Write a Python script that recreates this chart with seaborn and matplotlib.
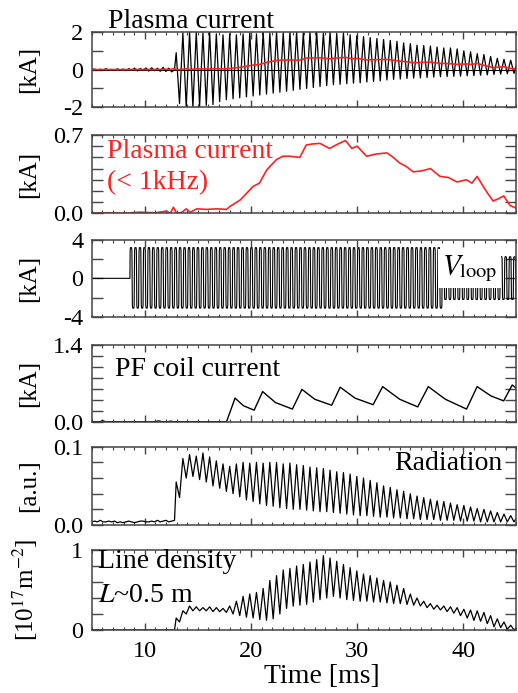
"""
Stacked discharge waveforms: plasma current, low-pass current, Vloop,
PF coil current, radiation and line density versus time.
"""
import numpy as np
import matplotlib
matplotlib.use('Agg')
import matplotlib.pyplot as plt
import seaborn as sns
from matplotlib.ticker import MultipleLocator, FixedLocator, FixedFormatter

T_MIN, T_MAX = 5.0, 45.0

# oscillation timing
OSC_START = 12.8    # ms, breakdown
OSC_PERIOD = 0.63   # ms

# plasma current [kA]: noise before breakdown, then per-cycle max / min
ip_pre = [0.0, 0.03, -0.04, 0.02, -0.02, 0.05, -0.03, 0.01, -0.05, 0.04,
          -0.02, 0.03, -0.06, 0.05, -0.04, 0.08, -0.07, 0.06, -0.05, 0.09,
          -0.08, 0.1, -0.06, 0.07, -0.09, 0.12, -0.1, 0.08, -0.12, 0.0]
ip_max = [0.9, 1.95, 2.0, 2.0, 1.95, 2.0, 1.9, 1.85, 1.9, 1.85,
          1.9, 1.95, 1.9, 2.0, 1.95, 2.0, 1.95, 2.0, 2.0, 1.95,
          2.0, 2.0, 1.95, 2.0, 1.9, 1.95, 1.85, 1.8, 1.75, 1.7,
          1.65, 1.6, 1.55, 1.5, 1.42, 1.38, 1.3, 1.28, 1.25, 1.2,
          1.15, 1.15, 1.1, 1.0, 0.95, 0.85, 0.8, 0.7, 0.6, 0.55,
          0.5, 0.45]
ip_min = [-1.8, -2.0, -2.0, -1.95, -1.9, -1.85, -1.7, -1.6, -1.55, -1.5,
          -1.45, -1.4, -1.35, -1.3, -1.25, -1.2, -1.15, -1.1, -1.05, -1.0,
          -0.95, -0.9, -0.85, -0.8, -0.78, -0.75, -0.72, -0.7, -0.66, -0.63,
          -0.6, -0.55, -0.52, -0.5, -0.47, -0.45, -0.44, -0.42, -0.4, -0.38,
          -0.37, -0.36, -0.35, -0.33, -0.32, -0.3, -0.28, -0.26, -0.24, -0.22,
          -0.2, -0.2]

# low-pass (< 1 kHz) plasma current [kA]
ip_lf_t = [5.0, 6.5, 8.0, 9.5, 11.0, 12.06, 12.4, 12.7, 13.0, 13.5,
           13.9, 14.3, 14.9, 15.8, 16.8, 17.7, 18.0, 19.0, 20.2, 20.8,
           21.5, 22.4, 23.0, 23.7, 24.6, 25.2, 25.8, 26.5, 27.0, 27.4,
           28.2, 28.9, 29.5, 30.0, 30.9, 31.8, 32.8, 33.4, 34.0, 34.6,
           35.3, 36.1, 36.9, 37.8, 38.6, 39.4, 40.3, 40.8, 41.3, 42.0,
           42.8, 43.3, 43.8, 44.4, 45.0]
ip_lf = [0.0, 0.005, 0.0, 0.01, 0.005, 0.02, 0.0, 0.054, 0.0, 0.01,
         0.04, 0.01, 0.04, 0.035, 0.04, 0.035, 0.06, 0.12, 0.24, 0.27,
         0.39, 0.48, 0.51, 0.51, 0.50, 0.61, 0.62, 0.625, 0.60, 0.58,
         0.62, 0.65, 0.58, 0.60, 0.51, 0.53, 0.54, 0.50, 0.45, 0.42,
         0.37, 0.38, 0.40, 0.33, 0.32, 0.28, 0.30, 0.27, 0.33, 0.22,
         0.11, 0.13, 0.155, 0.07, 0.045]

# loop voltage: square-ish drive, segments of constant amplitude
vloop_start = [8.6, 38.0]
vloop_end = [38.0, 45.2]
vloop_high = [3.2, 2.25]
vloop_low = [-3.1, -2.2]
VLOOP_PERIOD = 0.42
# one cycle of the waveform, phase and normalised value
vloop_phase = [0.0, 0.05, 0.12, 0.38, 0.45, 0.5, 0.55, 0.62, 0.88, 0.95]
vloop_shape = [0.0, 0.9, 1.0, 1.0, 0.9, 0.0, -0.9, -1.0, -1.0, -0.9]

# PF coil current [kA]
pf_t = [5.0, 5.8, 6.0, 6.3, 11.0, 11.3, 11.6, 12.2, 12.4, 12.7,
        17.7, 18.5, 19.3, 20.3, 21.1, 22.3, 23.9, 24.8, 26.0, 27.6,
        28.4, 29.8, 31.5, 32.4, 34.0, 35.7, 36.7, 38.3, 40.3, 41.3,
        42.6, 43.8, 44.6, 45.0]
pf_i = [0.0, 0.0, 0.02, 0.0, 0.0, 0.015, 0.0, 0.0, 0.01, 0.0,
        0.0, 0.43, 0.29, 0.21, 0.55, 0.35, 0.23, 0.59, 0.41, 0.30,
        0.63, 0.43, 0.31, 0.64, 0.41, 0.27, 0.64, 0.41, 0.23, 0.64,
        0.47, 0.38, 0.67, 0.61]

# radiation [a.u.]
rad_pre = [0.004, 0.005, 0.004, 0.006, 0.004, 0.004, 0.005, 0.004, 0.005, 0.003,
           0.004, 0.003, 0.004, 0.005, 0.004, 0.003, 0.004, 0.005, 0.005, 0.004,
           0.004, 0.005, 0.004, 0.006, 0.004, 0.005, 0.006, 0.004, 0.005, 0.006]
rad_max = [0.055, 0.085, 0.09, 0.088, 0.092, 0.087, 0.082, 0.078, 0.075, 0.078,
           0.08, 0.079, 0.08, 0.079, 0.08, 0.08, 0.078, 0.079, 0.077, 0.076,
           0.074, 0.073, 0.072, 0.07, 0.068, 0.067, 0.065, 0.062, 0.06, 0.057,
           0.054, 0.05, 0.048, 0.045, 0.043, 0.04, 0.037, 0.035, 0.033, 0.031,
           0.03, 0.028, 0.026, 0.025, 0.023, 0.021, 0.02, 0.018, 0.016, 0.014,
           0.012, 0.011]
rad_min = [0.035, 0.06, 0.062, 0.058, 0.055, 0.05, 0.047, 0.043, 0.04, 0.036,
           0.032, 0.03, 0.027, 0.025, 0.024, 0.022, 0.021, 0.02, 0.02, 0.019,
           0.018, 0.017, 0.017, 0.016, 0.015, 0.014, 0.013, 0.012, 0.012, 0.011,
           0.01, 0.01, 0.009, 0.009, 0.008, 0.008, 0.007, 0.007, 0.007, 0.006,
           0.006, 0.006, 0.005, 0.005, 0.005, 0.004, 0.004, 0.004, 0.004, 0.004,
           0.004, 0.004]

# line density [1e17 m^-2]
ld_pre = [0.0, 0.0]
ld_max = [0.15, 0.24, 0.3, 0.29, 0.28, 0.29, 0.28, 0.27, 0.3, 0.36,
          0.42, 0.45, 0.47, 0.52, 0.62, 0.68, 0.75, 0.77, 0.8, 0.82,
          0.85, 0.88, 0.93, 0.9, 0.86, 0.82, 0.78, 0.74, 0.7, 0.68,
          0.65, 0.62, 0.6, 0.56, 0.52, 0.45, 0.4, 0.36, 0.33, 0.31,
          0.3, 0.29, 0.28, 0.26, 0.25, 0.24, 0.22, 0.18, 0.14, 0.1,
          0.06, 0.04]
ld_min = [0.1, 0.2, 0.24, 0.24, 0.24, 0.23, 0.23, 0.22, 0.2, 0.18,
          0.16, 0.15, 0.13, 0.12, 0.14, 0.2, 0.27, 0.3, 0.31, 0.32,
          0.35, 0.38, 0.4, 0.42, 0.4, 0.38, 0.37, 0.36, 0.36, 0.35,
          0.35, 0.34, 0.33, 0.33, 0.32, 0.31, 0.3, 0.28, 0.26, 0.25,
          0.23, 0.21, 0.18, 0.15, 0.12, 0.11, 0.08, 0.04, 0.03, 0.01,
          0.0, 0.0]


def oscillation(pre, maxs, mins):
    """Join the pre-breakdown samples with the per-cycle peaks and troughs."""
    t_pre = np.linspace(T_MIN, OSC_START, len(pre))
    cyc = OSC_START + OSC_PERIOD * np.arange(len(maxs))
    t_osc = np.column_stack([cyc + 0.25 * OSC_PERIOD, cyc + 0.75 * OSC_PERIOD]).ravel()
    v_osc = np.column_stack([maxs, mins]).ravel()
    return np.concatenate([t_pre, t_osc]), np.concatenate([pre, v_osc])


def vloop_wave():
    t = [T_MIN, vloop_start[0]]
    v = [0.0, 0.0]
    phase = np.array(vloop_phase)
    shape = np.array(vloop_shape)
    for t0, t1, hi, lo in zip(vloop_start, vloop_end, vloop_high, vloop_low):
        n = int(round((t1 - t0) / VLOOP_PERIOD))
        for k in range(n):
            ts = t0 + (k + phase) * VLOOP_PERIOD
            t.extend(ts)
            v.extend(np.where(shape > 0, shape * hi, -shape * lo))
    return np.array(t), np.array(v)


sns.set_theme(style='ticks')
plt.rcParams['font.family'] = ['Liberation Serif', 'DejaVu Serif']
plt.rcParams['mathtext.fontset'] = 'stix'
plt.rcParams['axes.edgecolor'] = '#444444'
plt.rcParams['axes.linewidth'] = 1.1
plt.rcParams['text.color'] = 'black'
plt.rcParams['axes.labelcolor'] = 'black'

fig = plt.figure(figsize=(5.18, 6.93), dpi=100)

# panel boxes [left, bottom, width, height] in figure fraction
left, width = 0.177, 0.820
panels = [(0.8452, 0.1087), (0.6922, 0.1130), (0.5430, 0.1107),
          (0.3915, 0.1107), (0.2424, 0.1130), (0.0909, 0.1154)]
axes = [fig.add_axes([left, b, width, h]) for b, h in panels]

LBL = 17.5
TXT = 20
YLAB = 18

# y-axis setup: limits, tick positions, labelled ticks, axis label
yspec = [
    ((-2, 2), np.arange(-2, 2.01, 1), {-2: '-2', 0: '0', 2: '2'}, '[kA]'),
    ((0, 0.7), np.arange(0, 0.701, 0.1), {0: '0.0', 0.7: '0.7'}, '[kA]'),
    ((-4, 4), np.arange(-4, 4.01, 2), {-4: '-4', 0: '0', 4: '4'}, '[kA]'),
    ((0, 1.4), np.arange(0, 1.401, 0.2), {0: '0.0', 1.4: '1.4'}, '[kA]'),
    ((0, 0.1), np.arange(0, 0.1001, 0.02), {0: '0.0', 0.1: '0.1'}, '[a.u.]'),
    ((0, 1), np.arange(0, 1.001, 0.2), {0: '0', 1: '1'}, r'[10$^{17}$m$^{-2}$]'),
]

for ax, (lim, ticks, labels, ylab) in zip(axes, yspec):
    ax.set_xlim(T_MIN, T_MAX)
    ax.set_ylim(*lim)
    ax.yaxis.set_major_locator(FixedLocator(ticks))
    texts = []
    for tk in ticks:
        key = [k for k in labels if abs(k - tk) < 1e-6]
        texts.append(labels[key[0]] if key else '')
    ax.yaxis.set_major_formatter(FixedFormatter(texts))
    ax.xaxis.set_major_locator(MultipleLocator(10))
    ax.xaxis.set_minor_locator(MultipleLocator(1))
    ax.tick_params(axis='both', which='both', direction='in', top=True, right=True,
                   colors='#444444', labelcolor='black', labelsize=LBL)
    ax.tick_params(axis='y', which='major', length=8, width=1, pad=6)
    ax.tick_params(axis='x', which='major', length=5, width=1, pad=8)
    ax.tick_params(axis='x', which='minor', length=2.5, width=0.8)
    ax.set_ylabel(ylab, fontsize=YLAB)
    ax.yaxis.set_label_coords(-0.122, 0.5)
    if ax is not axes[-1]:
        ax.tick_params(axis='x', labelbottom=False)
    ax.set_xlabel('')

ax1, ax2, ax3, ax4, ax5, ax6 = axes

# 1: plasma current with low-pass overlay
t, v = oscillation(ip_pre, ip_max, ip_min)
ax1.axhline(0, color='black', lw=0.7, zorder=1)
sns.lineplot(x=t, y=v, ax=ax1, color='black', lw=0.9, estimator=None)
sns.lineplot(x=ip_lf_t, y=ip_lf, ax=ax1, color='#ff2020', lw=1.2, estimator=None)
ax1.text(0.038, 0.97, 'Plasma current', transform=ax1.transAxes,
         fontsize=TXT, ha='left', va='bottom')

# 2: low-pass plasma current
sns.lineplot(x=ip_lf_t, y=ip_lf, ax=ax2, color='#ff2020', lw=1.2, estimator=None)
ax2.text(0.035, 0.95, 'Plasma current\n(< 1kHz)', transform=ax2.transAxes,
         fontsize=TXT, color='#ff2020', ha='left', va='top', linespacing=1.3)

# 3: loop voltage
t, v = vloop_wave()
sns.lineplot(x=t, y=v, ax=ax3, color='black', lw=0.8, estimator=None, sort=False)
ax3.text(0.89, 0.63, r'$V_{\mathrm{loop}}$', transform=ax3.transAxes,
         fontsize=TXT + 1, ha='center', va='center', zorder=5,
         bbox=dict(facecolor='white', edgecolor='none', pad=3))

# 4: PF coil current
sns.lineplot(x=pf_t, y=pf_i, ax=ax4, color='black', lw=1.0, estimator=None)
ax4.text(0.055, 0.68, 'PF coil current', transform=ax4.transAxes,
         fontsize=TXT, ha='left', va='center')

# 5: radiation
t, v = oscillation(rad_pre, rad_max, rad_min)
sns.lineplot(x=t, y=v, ax=ax5, color='black', lw=0.9, estimator=None)
ax5.text(0.966, 0.78, 'Radiation', transform=ax5.transAxes,
         fontsize=TXT, ha='right', va='center')

# 6: line density
t, v = oscillation(ld_pre, ld_max, ld_min)
sns.lineplot(x=t, y=v, ax=ax6, color='black', lw=0.9, estimator=None)
ax6.text(0.015, 0.86, 'Line density', transform=ax6.transAxes,
         fontsize=TXT, ha='left', va='center')
ax6.text(0.015, 0.43, r'$L$~0.5 m', transform=ax6.transAxes,
         fontsize=TXT, ha='left', va='center')
ax6.set_xlabel('Time [ms]', fontsize=TXT)
ax6.xaxis.set_label_coords(0.542, -0.43)
ax6.set_xticks([10, 20, 30, 40])
ax6.set_xticklabels(['10', '20', '30', '40'])

fig.savefig('out.png', dpi=100)
plt.close(fig)
